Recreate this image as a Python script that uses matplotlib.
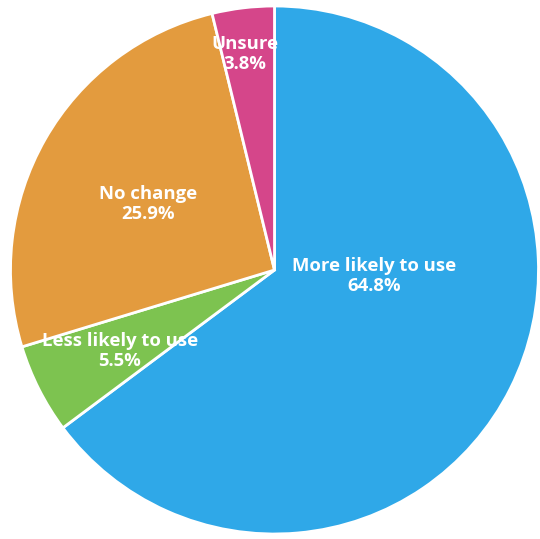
import matplotlib
matplotlib.use("Agg")
import matplotlib.pyplot as plt

categories = ["More likely to use", "Less likely to use", "No change", "Unsure"]
shares = [64.8, 5.5, 25.9, 3.8]
colors = ["#2fa8e8", "#7dc350", "#e39b3e", "#d5468a"]

# label anchor points in pixel space (x from left, y from top)
label_pos = [(374, 276), (120, 351), (148, 204), (245, 54)]

W, H = 540, 539
fig = plt.figure(figsize=(W / 100, H / 100), dpi=100)
ax = fig.add_axes([0, 0, 1, 1])
ax.set_xlim(0, W)
ax.set_ylim(0, H)
ax.set_aspect("equal")
ax.axis("off")

ax.pie(shares, colors=colors, startangle=90, counterclock=False,
       center=(274.5, H - 270), radius=264,
       wedgeprops=dict(edgecolor="white", linewidth=2))
ax.set_xlim(0, W)
ax.set_ylim(0, H)

for name, val, (x, y) in zip(categories, shares, label_pos):
    ax.text(x, H - y, f"{name}\n{val:.1f}%", ha="center", va="center",
            color="white", fontsize=13.3, fontweight="bold",
            family="Open Sans", linespacing=1.1)

fig.savefig("out.png", dpi=100)
